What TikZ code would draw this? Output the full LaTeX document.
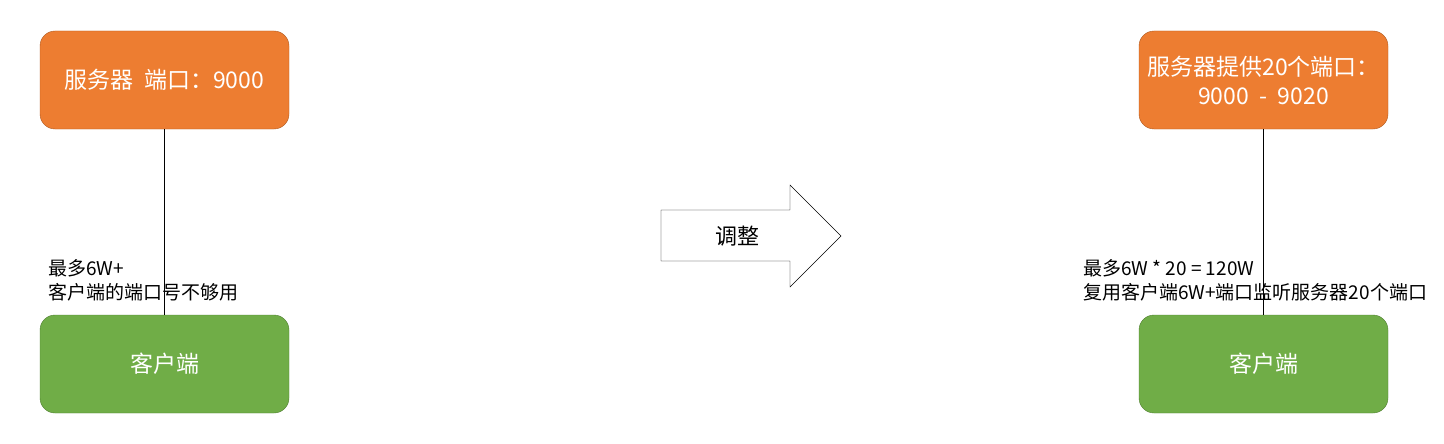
\documentclass[tikz,border=0pt]{standalone}
\usepackage{fontspec}
\setmainfont{Noto Sans CJK SC}
\usepackage{xcolor}
\definecolor{srvfill}{HTML}{ED7D31}
\definecolor{srvline}{HTML}{AE5A21}
\definecolor{clifill}{HTML}{70AD47}
\definecolor{cliline}{HTML}{507E32}

\begin{document}
\begin{tikzpicture}[x=1pt,y=-1pt,
    box/.style={shape=rectangle, rounded corners=15pt, minimum width=249pt, minimum height=98pt,
      inner sep=0pt, text=white, align=center, font=\fontsize{23}{29}\selectfont},
    server/.style={box, fill=srvfill, draw=srvline},
    client/.style={box, fill=clifill, draw=cliline},
    note/.style={anchor=west, inner sep=0pt, align=left, font=\fontsize{19}{24}\selectfont}]
    \useasboundingbox (0,0) rectangle (1444,444);

    % before
    \node[server] (srvA) at (164.5,80) {服务器\ \ 端口：9000};
    \node[client] (cliA) at (164.5,364) {客户端};
    \draw (srvA.south) -- (cliA.north);
    \node[note] (noteA) at (48,280) {最多6W+\\客户端的端口号不够用};

    % adjust arrow
    \draw[fill=white] (661,210) -- (790,210) -- (790,185) -- (841,236) -- (790,287) -- (790,261) -- (661,261) -- cycle;
    \node[font=\fontsize{22}{26}\selectfont] (adjust) at (737,236) {调整};

    % after
    \node[server] (srvB) at (1263.5,80) {服务器提供20个端口：\\9000\ \ -\ \ 9020};
    \node[client] (cliB) at (1263.5,364) {客户端};
    \draw (srvB.south) -- (cliB.north);
    \node[note] (noteB) at (1083,280) {最多6W * 20 = 120W\\复用客户端6W+端口监听服务器20个端口};
\end{tikzpicture}
\end{document}
